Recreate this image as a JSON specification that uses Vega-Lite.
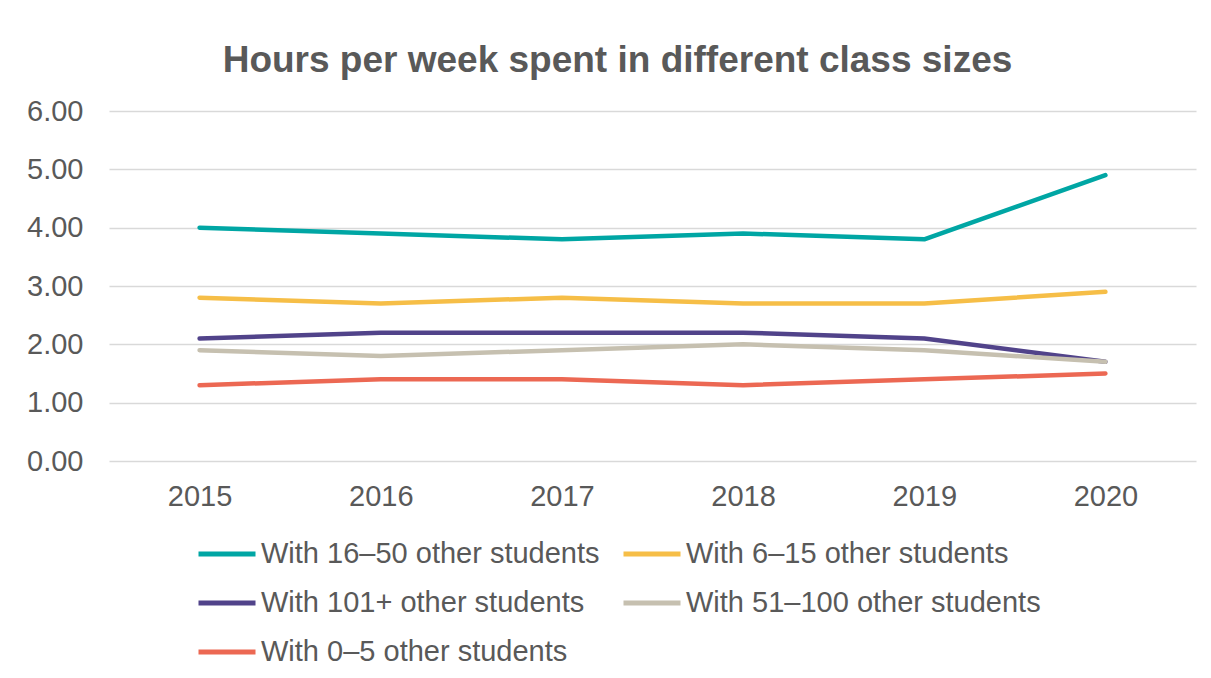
{
  "$schema": "https://vega.github.io/schema/vega-lite/v6.json",
  "autosize": {"type": "none"},
  "width": 1087,
  "height": 350,
  "padding": {"left": 109, "top": 111, "right": 15, "bottom": 217},
  "background": "white",
  "title": {
    "text": "Hours per week spent in different class sizes",
    "font": "Liberation Sans",
    "fontSize": 37,
    "fontWeight": "bold",
    "color": "#595959",
    "anchor": "middle",
    "baseline": "alphabetic",
    "offset": -12,
    "dx": -35
  },
  "data": {
    "values": [
      {"series": "With 16–50 other students", "year": "2015", "hours": 4.0},
      {"series": "With 16–50 other students", "year": "2016", "hours": 3.9},
      {"series": "With 16–50 other students", "year": "2017", "hours": 3.8},
      {"series": "With 16–50 other students", "year": "2018", "hours": 3.9},
      {"series": "With 16–50 other students", "year": "2019", "hours": 3.8},
      {"series": "With 16–50 other students", "year": "2020", "hours": 4.9},
      {"series": "With 6–15 other students", "year": "2015", "hours": 2.8},
      {"series": "With 6–15 other students", "year": "2016", "hours": 2.7},
      {"series": "With 6–15 other students", "year": "2017", "hours": 2.8},
      {"series": "With 6–15 other students", "year": "2018", "hours": 2.7},
      {"series": "With 6–15 other students", "year": "2019", "hours": 2.7},
      {"series": "With 6–15 other students", "year": "2020", "hours": 2.9},
      {"series": "With 101+ other students", "year": "2015", "hours": 2.1},
      {"series": "With 101+ other students", "year": "2016", "hours": 2.2},
      {"series": "With 101+ other students", "year": "2017", "hours": 2.2},
      {"series": "With 101+ other students", "year": "2018", "hours": 2.2},
      {"series": "With 101+ other students", "year": "2019", "hours": 2.1},
      {"series": "With 101+ other students", "year": "2020", "hours": 1.7},
      {"series": "With 51–100 other students", "year": "2015", "hours": 1.9},
      {"series": "With 51–100 other students", "year": "2016", "hours": 1.8},
      {"series": "With 51–100 other students", "year": "2017", "hours": 1.9},
      {"series": "With 51–100 other students", "year": "2018", "hours": 2.0},
      {"series": "With 51–100 other students", "year": "2019", "hours": 1.9},
      {"series": "With 51–100 other students", "year": "2020", "hours": 1.7},
      {"series": "With 0–5 other students", "year": "2015", "hours": 1.3},
      {"series": "With 0–5 other students", "year": "2016", "hours": 1.4},
      {"series": "With 0–5 other students", "year": "2017", "hours": 1.4},
      {"series": "With 0–5 other students", "year": "2018", "hours": 1.3},
      {"series": "With 0–5 other students", "year": "2019", "hours": 1.4},
      {"series": "With 0–5 other students", "year": "2020", "hours": 1.5}
    ]
  },
  "mark": {"type": "line", "strokeWidth": 4.5, "strokeCap": "round", "strokeJoin": "round"},
  "encoding": {
    "x": {
      "field": "year",
      "type": "ordinal",
      "scale": {"type": "point", "padding": 0.5},
      "axis": {
        "title": null,
        "labelAngle": 0,
        "ticks": false,
        "domain": false,
        "labelPadding": 21,
        "labelFont": "Liberation Sans",
        "labelFontSize": 29,
        "labelColor": "#595959"
      }
    },
    "y": {
      "field": "hours",
      "type": "quantitative",
      "scale": {"domain": [0, 6], "nice": false},
      "axis": {
        "title": null,
        "values": [0, 1, 2, 3, 4, 5, 6],
        "format": ".2f",
        "ticks": false,
        "domain": false,
        "labelPadding": 26,
        "labelFont": "Liberation Sans",
        "labelFontSize": 29,
        "labelColor": "#595959",
        "gridColor": "#D9D9D9",
        "gridWidth": 1.5
      }
    },
    "color": {
      "field": "series",
      "type": "nominal",
      "sort": null,
      "scale": {
        "domain": ["With 16–50 other students", "With 6–15 other students", "With 101+ other students", "With 51–100 other students", "With 0–5 other students"],
        "range": ["#00A6A4", "#F6BE47", "#51438A", "#C6C0B0", "#EC6853"]
      },
      "legend": {
        "title": null,
        "orient": "none",
        "legendX": 87,
        "legendY": 412,
        "columns": 2,
        "direction": "horizontal",
        "symbolType": "stroke",
        "symbolSize": 3249,
        "symbolStrokeWidth": 5,
        "labelOffset": 3,
        "columnPadding": 13,
        "rowPadding": 3,
        "labelFont": "Liberation Sans",
        "labelFontSize": 29,
        "labelColor": "#595959",
        "labelLimit": 600
      }
    }
  },
  "config": {"view": {"stroke": null}}
}
